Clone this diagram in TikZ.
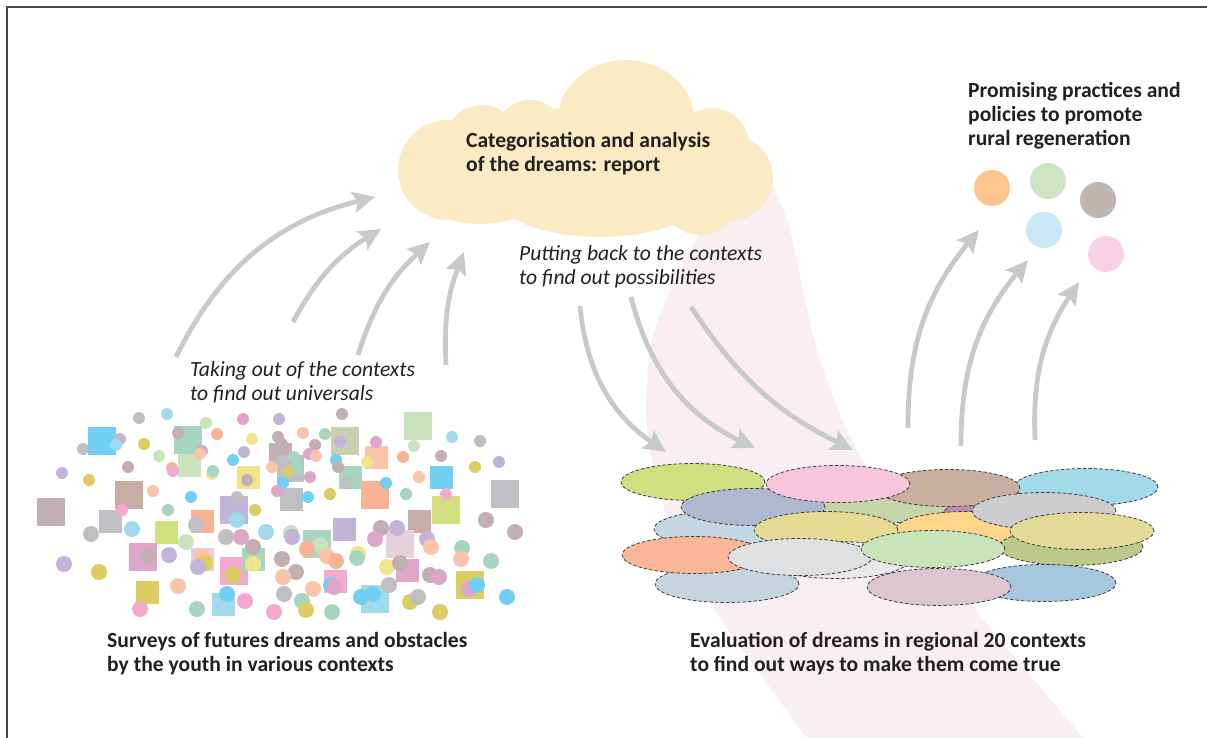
\documentclass[tikz,border=0pt]{standalone}
\usepackage{fontspec}
\setmainfont{Carlito}
\usetikzlibrary{arrows.meta,positioning,shapes.geometric}
\definecolor{ink}{HTML}{231F20}
\definecolor{framegray}{HTML}{4A4A4A}
\definecolor{arrgray}{HTML}{C8C9CB}
\definecolor{dashgray}{HTML}{3F3F3F}
\definecolor{cloudy}{HTML}{FAEBC4}
\definecolor{bandpink}{HTML}{F9EEF2}
% scatter colours
\definecolor{sBlue}{HTML}{72CFF4}
\definecolor{sLtBlue}{HTML}{A1DAEA}
\definecolor{sTeal}{HTML}{A8D5C0}
\definecolor{sLtGreen}{HTML}{C9E4BC}
\definecolor{sMauve}{HTML}{C2AFB4}
\definecolor{sGray}{HTML}{BEBFC2}
\definecolor{sPinkM}{HTML}{DEA6CB}
\definecolor{sLav}{HTML}{C4B3D8}
\definecolor{sPeach}{HTML}{FAC4A8}
\definecolor{sSalmon}{HTML}{F9B394}
\definecolor{sYellow}{HTML}{F1E48A}
\definecolor{sOlive}{HTML}{DBCD62}
\definecolor{sYG}{HTML}{D1DF7E}
\definecolor{sBrown}{HTML}{C6ACA2}
\definecolor{sPink}{HTML}{F4A9CF}
\definecolor{sLtPink}{HTML}{E5D1DA}
\definecolor{sKhakiG}{HTML}{C8D0AE}
% practice colours
\definecolor{pOrangeC}{HTML}{FDC68E}
\definecolor{pGreenC}{HTML}{CDE5C3}
\definecolor{pTaupeC}{HTML}{BFB5AE}
\definecolor{pBlueC}{HTML}{C8E8F6}
\definecolor{pPinkC}{HTML}{F8D2E3}
\tikzset{arr/.style={draw=arrgray, line width=4.8pt, -{Stealth[length=22pt,width=21pt,inset=4pt]}}}
\tikzset{ctx/.style={ellipse, draw=dashgray, dash pattern=on 3.5pt off 2pt, line width=0.8pt, minimum width=144pt, minimum height=37pt, inner sep=0pt}}
\tikzset{goal/.style={circle, minimum size=36pt, inner sep=0pt}}
\tikzset{headline/.style={anchor=north west, align=left, inner sep=0pt, text=ink, font=\fontsize{21.6}{24}\selectfont\bfseries}}
\tikzset{remark/.style={headline, font=\fontsize{21.6}{23.5}\selectfont\itshape}}

\begin{document}
\begin{tikzpicture}[x=1pt,y=-1pt]
	\useasboundingbox (0,0) rectangle (1207,738);
	\draw[framegray, line width=1.2pt] (7,738) -- (7,7) -- (1207,7);

	% light beam behind the evaluation
	\fill[bandpink] plot[smooth] coordinates {(712,205) (697,237) (667,297) (650,350) (647,430) (668,520) (710,603) (807,738)}
		-- plot[smooth] coordinates {(1083,738) (973,607) (903,518) (853,443) (817,350) (790,230) (772,185)} -- cycle;

	% cloud
	\fill[cloudy] (448,170) circle[radius=50];
	\fill[cloudy] (482,142) circle[radius=37];
	\fill[cloudy] (530,134) circle[radius=34];
	\fill[cloudy] (626,120) ellipse[x radius=68, y radius=60];
	\fill[cloudy] (712,145) circle[radius=37];
	\fill[cloudy] (730,178) circle[radius=43];
	\fill[cloudy] (700,195) circle[radius=40];
	\fill[cloudy] (600,187) ellipse[x radius=112, y radius=50];
	\fill[cloudy] (480,192) ellipse[x radius=62, y radius=32];
	\fill[cloudy] (590,165) ellipse[x radius=150, y radius=58];

	\node[headline] (report) at (466,132.5) {Categorisation and analysis\\of the dreams: report};
	\node[headline] (promise) at (968,82.5) {Promising practices and\\policies to promote\\rural regeneration};
	\node[remark] (putback) at (519,245.5) {Putting back to the contexts\\to find out possibilities};
	\node[remark] (takeout) at (190,361.5) {Taking out of the contexts\\to find out universals};
	\node[headline] (surveys) at (107,632.5) {Surveys of futures dreams and obstacles\\by the youth in various contexts};
	\node[headline] (evaluation) at (690,632.5) {Evaluation of dreams in regional 20 contexts\\to find out ways to make them come true};

	% practices
	\node[goal, fill=pOrangeC] (pOrange) at (992,188) {};
	\node[goal, fill=pGreenC] (pGreen) at (1048,181) {};
	\node[goal, fill=pTaupeC] (pTaupe) at (1098,200) {};
	\node[goal, fill=pBlueC] (pBlue) at (1044,230) {};
	\node[goal, fill=pPinkC] (pPink) at (1106,254) {};

	% arrow ends
	\coordinate (tk1) at (176,357); \coordinate (tk1t) at (375,197);
	\coordinate (tk2) at (293,322); \coordinate (tk2t) at (381,229);
	\coordinate (tk3) at (358,355); \coordinate (tk3t) at (430,242);
	\coordinate (tk4) at (446,365); \coordinate (tk4t) at (464,252);
	\coordinate (pb1) at (580,306); \coordinate (pb1t) at (666,452);
	\coordinate (pb2) at (631,297); \coordinate (pb2t) at (755,448);
	\coordinate (pb3) at (691,307); \coordinate (pb3t) at (853,450);
	\coordinate (pr1) at (908,428); \coordinate (pr1t) at (979,230);
	\coordinate (pr2) at (961,446); \coordinate (pr2t) at (1028,260);
	\coordinate (pr3) at (1035,440); \coordinate (pr3t) at (1079,282);

	\draw[arr] (tk1) to[bend left=25] (tk1t);
	\draw[arr] (tk2) to[bend left=15] (tk2t);
	\draw[arr] (tk3) to[bend left=15] (tk3t);
	\draw[arr] (tk4) to[bend left=12] (tk4t);
	\draw[arr] (pb1) to[bend right=25] (pb1t);
	\draw[arr] (pb2) to[bend right=25] (pb2t);
	\draw[arr] (pb3) to[bend right=15] (pb3t);
	\draw[arr] (pr1) to[bend left=20] (pr1t);
	\draw[arr] (pr2) to[bend left=20] (pr2t);
	\draw[arr] (pr3) to[bend left=18] (pr3t);

	% survey answers
	\foreach \x/\y/\s/\c in {102/441/28/sBlue, 188/440/28/sTeal, 189/465/23/sLtGreen, 280/454/23/sMauve, 290/468/27/sGray,
		345/441/28/sKhakiG, 418/426/28/sLtGreen, 376/457/23/sPeach, 248/477/23/sYellow, 350/477/23/sTeal, 441/477/23/sBlue,
		129/495/28/sBrown, 375/495/28/sSalmon, 291/499/23/sGray, 505/494/28/sGray, 51/512/28/sMauve, 110/521/23/sGray,
		446/510/28/sYG, 234/510/28/sLav, 202/521/23/sSalmon, 166/532/23/sYG, 419/521/23/sBrown, 344/529/23/sLav,
		317/544/28/sTeal, 400/544/28/sLtPink, 143/557/28/sPinkM, 202/559/23/sLtPink, 234/571/28/sPink, 253/559/23/sTeal,
		407/570/23/sPinkM, 335/581/23/sPink, 147/592/23/sOlive, 223/604/23/sLtBlue, 375/599/28/sLtBlue, 470/585/28/sOlive}
		\fill[\c] ({\x-\s/2},{\y-\s/2}) rectangle +(\s,\s);
	\foreach \x/\y/\c in {139/418/sGray, 167/414/sLtBlue, 206/423/sLtGreen, 243/419/sPinkM, 279/419/sLav, 342/414/sMauve,
		303/433/sPeach, 325/434/sTeal, 178/433/sMauve, 217/434/sSalmon, 120/439/sLav, 116/445/sLtBlue, 83/449/sGray,
		144/444/sOlive, 252/439/sYellow, 278/437/sMauve, 282/444/sMauve, 315/445/sMauve, 202/451/sPinkM, 200/454/sPeach,
		244/452/sLav, 159/456/sLtGreen, 340/442/sLav, 376/442/sPinkM, 414/446/sLtGreen, 452/437/sLtBlue, 480/441/sGray,
		233/460/sBlue, 294/457/sTeal, 309/454/sPinkM, 316/456/sPeach, 336/460/sBlue, 367/462/sYellow, 403/457/sSalmon,
		441/456/sMauve, 499/462/sLav, 128/467/sMauve, 172/468/sSalmon, 173/471/sPink, 212/474/sYellow, 213/471/sTeal,
		272/467/sPeach, 289/471/sOlive, 297/468/sTeal, 338/467/sMauve, 62/473/sLav, 89/480/sOlive, 247/480/sMauve,
		310/477/sPinkM, 346/483/sGray, 419/477/sPeach, 475/467/sOlive, 283/483/sBlue, 386/483/sBlue, 153/491/sPeach,
		191/497/sBlue, 277/491/sPinkM, 237/497/sGray, 308/497/sBlue, 330/494/sOlive, 406/494/sTeal, 446/494/sPink,
		122/510/sPink, 168/510/sTeal, 255/510/sOlive}
		\fill[\c] (\x,\y) circle[radius=6];
	\foreach \x/\y/\c in {132/529/sLtBlue, 91/534/sGray, 237/520/sLtBlue, 196/525/sGray, 226/537/sGray, 241/537/sPinkM,
		266/532/sLtBlue, 186/542/sLtGreen, 291/533/sLtGreen, 292/537/sLav, 253/547/sMauve, 320/545/sLtGreen, 307/549/sSalmon,
		327/556/sPeach, 336/561/sSalmon, 358/554/sYellow, 357/558/sTeal, 381/528/sMauve, 397/528/sLav, 375/539/sPinkM,
		427/539/sLav, 431/547/sPeach, 486/520/sMauve, 515/532/sMauve, 462/548/sTeal, 461/559/sPeach, 491/561/sTeal,
		64/564/sLav, 99/572/sOlive, 148/556/sMauve, 169/555/sLav, 202/557/sPeach, 205/563/sOlive, 198/567/sLav,
		253/564/sYellow, 282/559/sMauve, 233/575/sOlive, 296/572/sMauve, 283/577/sPeach, 387/567/sYellow, 400/563/sMauve,
		430/575/sMauve, 439/577/sPinkM, 389/585/sGray, 178/586/sPeach, 227/594/sBlue, 313/589/sPeach, 331/585/sBlue,
		334/587/sPinkM, 284/594/sGray, 302/601/sTeal, 306/610/sOlive, 361/597/sBlue, 373/594/sBlue, 410/602/sOlive,
		418/597/sGray, 469/589/sPinkM, 477/585/sBlue, 507/597/sBlue, 140/609/sPink, 197/609/sTeal, 245/601/sPink,
		274/612/sPink, 332/612/sTeal, 440/612/sOlive}
		\fill[\c] (\x,\y) circle[radius=8];

	% the 20 regional contexts
	\foreach \x/\y/\c [count=\i] in {983/505/BD8AB0, 876/505/C6D4A8, 1086/487/A2DAEA, 693/482/D0DF7F, 948/488/C9AF9F,
		726/529/C4D7E2, 753/507/AEB9D0, 838/484/F7C6DC, 967/530/FDD68C, 1044/511/CDCDCF, 1071/547/BCC98A,
		826/530/E4DA92, 1082/531/E2DA96, 727/584/C4D5E0, 1044/583/A5C8DE, 837/560/E7E8E9, 694/555/F9B797,
		800/557/DFE0E1, 933/549/C9E3BA, 939/587/DCC6D0}
		{\definecolor{ctxfill}{HTML}{\c}
		\node[ctx, fill=ctxfill] (ctx\i) at (\x,\y) {};}
\end{tikzpicture}
\end{document}
